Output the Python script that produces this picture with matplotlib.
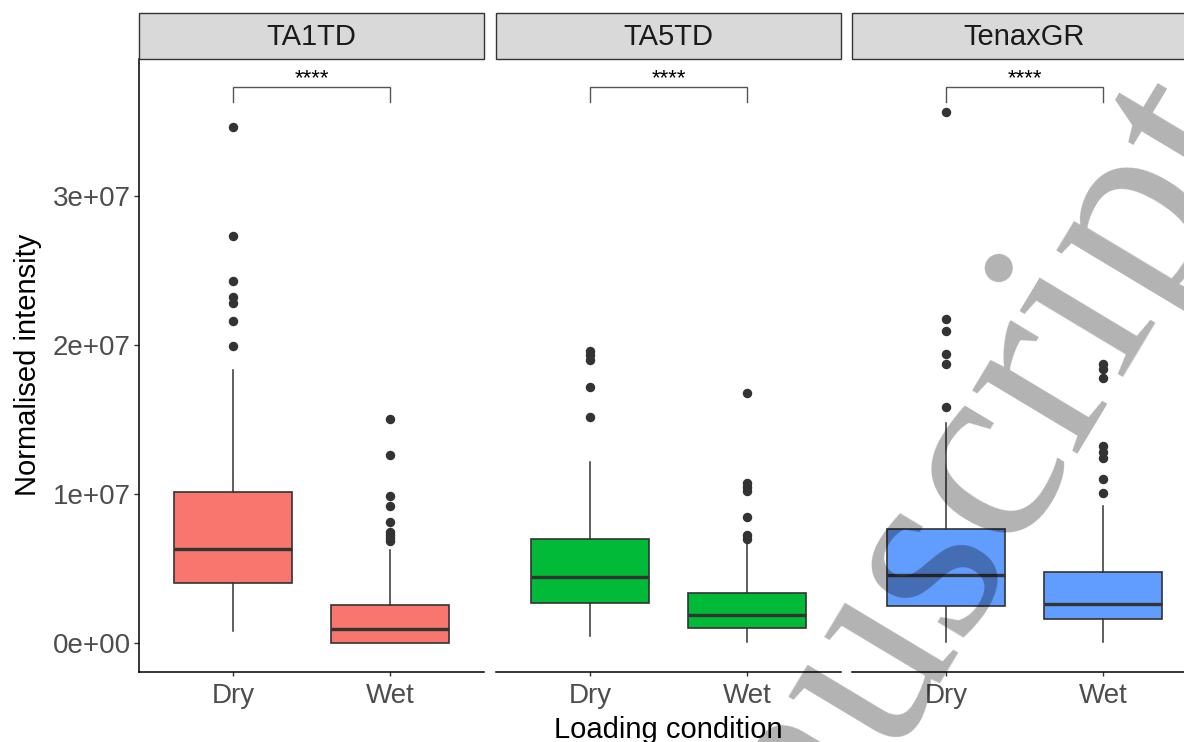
import matplotlib.pyplot as plt
from matplotlib.patches import Rectangle

plt.rcParams['font.family'] = ['Liberation Sans', 'DejaVu Sans']

# boxplot summaries per facet: [Dry, Wet]
facets = ['TA1TD', 'TA5TD', 'TenaxGR']
conditions = ['Dry', 'Wet']
colours = ['#F8766D', '#00BA38', '#619CFF']

q1 = [[4.03e6, 0.02e6], [2.68e6, 1.00e6], [2.47e6, 1.61e6]]
med = [[6.31e6, 0.94e6], [4.40e6, 1.87e6], [4.53e6, 2.60e6]]
q3 = [[10.13e6, 2.53e6], [7.00e6, 3.36e6], [7.64e6, 4.78e6]]
whislo = [[0.80e6, 0.0], [0.50e6, 0.05e6], [0.05e6, 0.05e6]]
whishi = [[18.3e6, 6.24e6], [12.12e6, 6.78e6], [14.73e6, 9.17e6]]
fliers = [
    [[34.6e6, 27.3e6, 24.3e6, 23.2e6, 22.8e6, 21.6e6, 19.9e6],
     [15.05e6, 12.64e6, 9.87e6, 9.17e6, 8.14e6, 7.47e6, 7.25e6, 7.03e6, 6.85e6]],
    [[19.58e6, 19.33e6, 19.0e6, 17.2e6, 15.14e6],
     [16.76e6, 10.72e6, 10.44e6, 10.19e6, 8.47e6, 7.26e6, 7.0e6]],
    [[35.6e6, 21.71e6, 20.92e6, 19.4e6, 18.7e6, 15.84e6],
     [18.7e6, 18.38e6, 17.8e6, 13.23e6, 12.82e6, 12.41e6, 11.01e6, 10.06e6]],
]
sig_label = ['****', '****', '****']
bracket_y = 37.3e6
bracket_tip = 36.3e6

yticks = [0, 1e7, 2e7, 3e7]
ytick_labels = ['0e+00', '1e+07', '2e+07', '3e+07']

W, H = 1184, 742
fig = plt.figure(figsize=(W / 100, H / 100), dpi=100)

panel_left = [139, 496, 852]
panel_w = 345
top, bottom = 59, 672
strip_top = 13
dark = '#333333'

for i, name in enumerate(facets):
    x0 = panel_left[i]
    ax = fig.add_axes([x0 / W, (H - bottom) / H, panel_w / W, (bottom - top) / H])
    stats = []
    for j, cond in enumerate(conditions):
        stats.append(dict(q1=q1[i][j], med=med[i][j], q3=q3[i][j],
                          whislo=whislo[i][j], whishi=whishi[i][j],
                          fliers=fliers[i][j], label=cond))
    ax.bxp(stats, positions=[1, 2], widths=0.75, patch_artist=True,
           showcaps=False,
           boxprops=dict(facecolor=colours[i], edgecolor=dark, linewidth=1.2),
           medianprops=dict(color=dark, linewidth=2.4, solid_capstyle='butt'),
           whiskerprops=dict(color=dark, linewidth=1.1),
           flierprops=dict(marker='o', markersize=5.8, markerfacecolor=dark,
                           markeredgecolor=dark))

    ax.set_xlim(0.4, 2.6)
    ax.set_ylim(-1.946e6, 3.919e7)
    for side in ['top', 'right']:
        ax.spines[side].set_visible(False)
    ax.spines['bottom'].set_linewidth(1.1)
    ax.spines['left'].set_linewidth(1.1)
    ax.set_xticks([1, 2])
    ax.set_xticklabels(conditions)
    ax.tick_params(axis='x', length=3.2, width=1.0, color=dark, pad=4.5,
                   labelsize=20, labelcolor='#4D4D4D')
    if i == 0:
        ax.set_yticks(yticks)
        ax.set_yticklabels(ytick_labels)
        ax.tick_params(axis='y', length=3.6, width=1.0, color=dark, pad=2.5,
                       labelsize=20, labelcolor='#4D4D4D')
    else:
        ax.spines['left'].set_visible(False)
        ax.set_yticks([])

    # significance bracket between Dry and Wet
    ax.plot([1, 1, 2, 2], [bracket_tip, bracket_y, bracket_y, bracket_tip],
            color='#555555', linewidth=1.0, solid_joinstyle='miter')
    ax.annotate(sig_label[i], xy=(1.5, bracket_y), xytext=(0, 2.5),
                textcoords='offset points', ha='center', va='baseline',
                fontsize=16, color='black')

    # facet strip
    sax = fig.add_axes([x0 / W, (H - top) / H, panel_w / W, (top - strip_top) / H])
    sax.set_xlim(0, 1)
    sax.set_ylim(0, 1)
    sax.axis('off')
    sax.add_patch(Rectangle((0, 0), 1, 1, facecolor='#D9D9D9', edgecolor=dark,
                            linewidth=1.0, transform=sax.transAxes, clip_on=False))
    sax.text(0.5, 0.47, name, ha='center', va='center', fontsize=21, color='#1A1A1A')

fig.text(28 / W, (H - 365) / H, 'Normalised intensity', rotation=90,
         ha='center', va='center', fontsize=21)
fig.text(668 / W, (H - 737.5) / H, 'Loading condition', ha='center',
         va='baseline', fontsize=21)

# diagonal watermark
fig.text(958 / W, (H - 643) / H, 'manuscript', family='Liberation Serif',
         fontsize=192, color='black', alpha=0.3, rotation=59,
         rotation_mode='anchor', ha='center', va='baseline', zorder=10)

fig.savefig('out.png', dpi=100)
